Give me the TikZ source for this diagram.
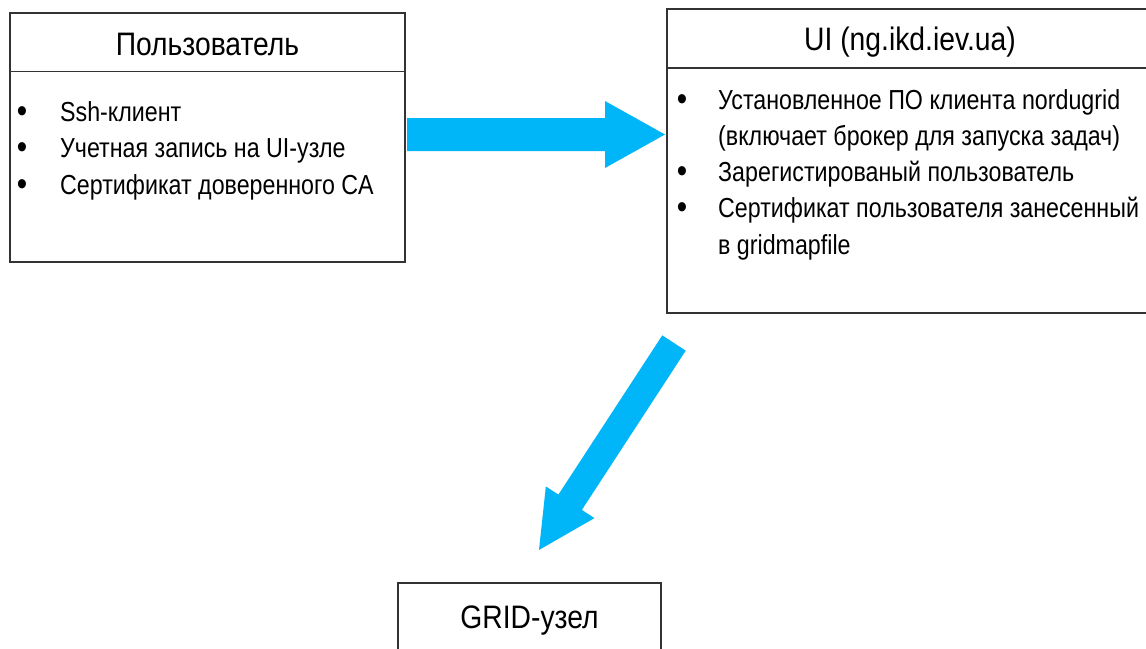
\documentclass[tikz,border=0pt]{standalone}
\usepackage{fontspec}
\setmainfont[FakeStretch=0.87]{Liberation Sans}
\newfontfamily\bodyfont[FakeStretch=0.845]{Liberation Sans}
\usetikzlibrary{calc}
\definecolor{arrowblue}{HTML}{00B6F8}
\definecolor{boxline}{HTML}{333333}
\newcommand\fatarrow[5]{%
  \coordinate (fahead) at ($(#2)!#5!(#1)$);
  \fill[arrowblue] ($(#1)!#3!90:(#2)$) -- ($(fahead)!#3!90:(#2)$) -- ($(fahead)!#4!90:(#2)$)
    -- (#2) -- ($(fahead)!#4!-90:(#2)$) -- ($(fahead)!#3!-90:(#2)$) -- ($(#1)!#3!-90:(#2)$) -- cycle;}
\tikzset{
  frame/.style={draw=boxline, line width=1.6pt, inner sep=0pt, outer sep=0pt, anchor=north west},
  headtxt/.style={anchor=base, inner sep=0pt, font=\fontsize{32.5}{36}\selectfont},
  bodytxt/.style={anchor=base west, inner sep=0pt, font=\bodyfont\fontsize{27.5}{36}\selectfont},
  bul/.style={anchor=base, inner sep=0pt, font=\fontsize{34}{36}\selectfont},
  divider/.style={draw=boxline, line width=1.6pt}
}
\begin{document}
\begin{tikzpicture}[x=1pt,y=-1pt]
\useasboundingbox[fill=white] (0,0) rectangle (1146,648);
% boxes
\node[frame, minimum width=395pt, minimum height=249pt] (user) at (10,13) {};
\node[frame, minimum width=486pt, minimum height=304pt] (ui) at (667,9) {};
\node[frame, minimum width=263pt, minimum height=90pt] (grid) at (398,583) {};
\draw[divider] (10,71.5) -- (405,71.5);
\draw[divider] (667,68) -- (1153,68);
% headers
\node[headtxt] (userhead) at (207.5,55) {Пользователь};
\node[headtxt] (uihead) at (910,50) {UI (ng.ikd.iev.ua)};
\node[headtxt] (gridhead) at (529.5,628) {GRID-узел};
% left body
\node[bul] (ub1) at (22,122) {\textbullet};
\node[bodytxt] (ut1) at (60,121) {Ssh-клиент};
\node[bul] (ub2) at (22,158.5) {\textbullet};
\node[bodytxt] (ut2) at (60,157.5) {Учетная запись на UI-узле};
\node[bul] (ub3) at (22,195) {\textbullet};
\node[bodytxt] (ut3) at (60,194) {Сертификат доверенного CA};
% right body
\node[bul] (ib1) at (682,110) {\textbullet};
\node[bodytxt] (it1) at (718,109) {Установленное ПО клиента nordugrid};
\node[bodytxt] (it1b) at (718,145.3) {(включает брокер для запуска задач)};
\node[bul] (ib2) at (682,182.6) {\textbullet};
\node[bodytxt] (it2) at (718,181.6) {Зарегистированый пользователь};
\node[bul] (ib3) at (682,218.9) {\textbullet};
\node[bodytxt] (it3) at (718,217.9) {Сертификат пользователя занесенный};
\node[bodytxt] (it3b) at (718,254.2) {в gridmapfile};
% arrows
\coordinate (r1) at ([xshift=2pt,yshift=3pt]user.east);
\coordinate (r2) at ([xshift=-2pt,yshift=26.5pt]ui.west);
\fatarrow{r1}{r2}{16.5pt}{33.5pt}{60pt}
\coordinate (d1) at ([xshift=7pt,yshift=-30pt]ui.south west);
\coordinate (d2) at ([xshift=9.5pt,yshift=33pt]grid.north);
\fatarrow{d1}{d2}{14pt}{29pt}{57pt}
\end{tikzpicture}
\end{document}
